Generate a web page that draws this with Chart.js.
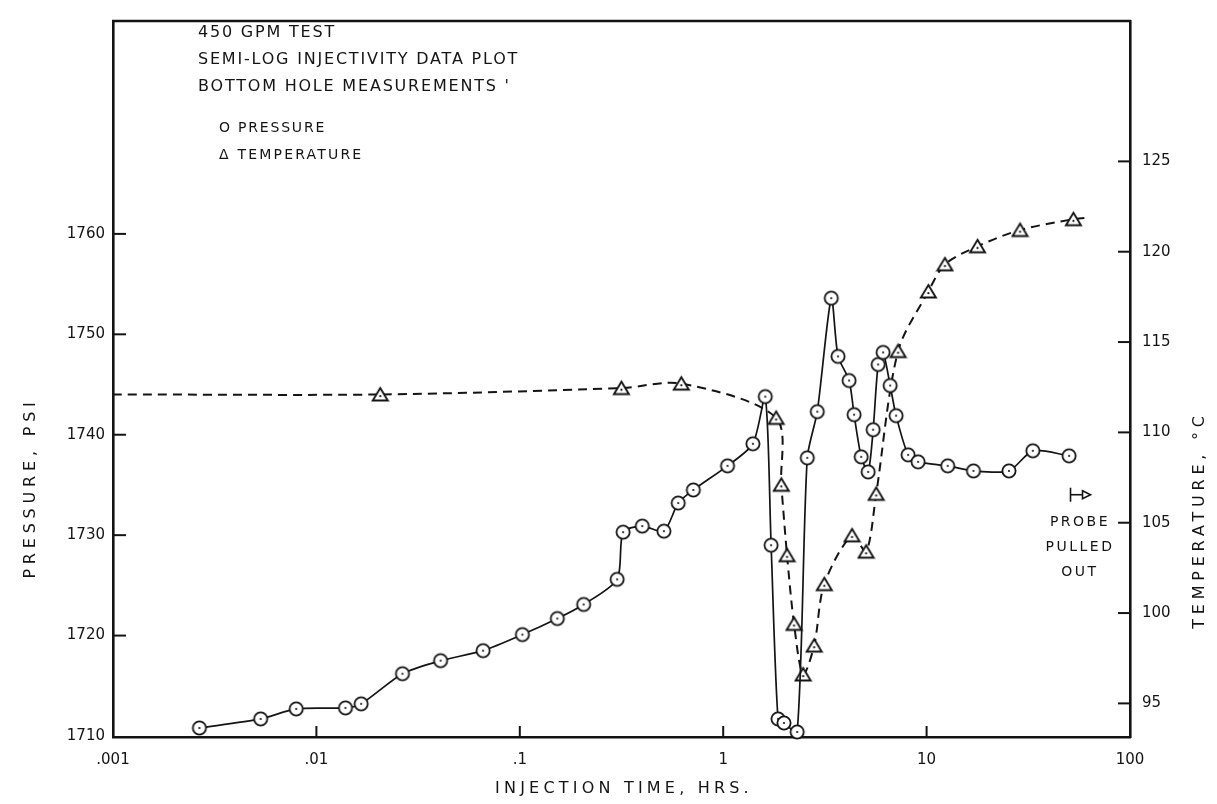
<!DOCTYPE html>
<html>
<head>
<meta charset="utf-8">
<title>450 GPM Test - Semi-log injectivity data plot</title>
<script src="https://cdn.jsdelivr.net/npm/chart.js@4.4.1/dist/chart.umd.min.js"></script>
<style>
  html, body { margin: 0; padding: 0; background: #ffffff; }
  #wrap { width: 1217px; height: 804px; }
</style>
</head>
<body>
<div id="wrap"><canvas id="chart" width="1217" height="804"></canvas></div>
<script>
// Bottom hole pressure (psi) against injection time (hrs)
const pressureTimes = [0.00266, 0.00532, 0.00796, 0.0139, 0.0166, 0.0265, 0.0408, 0.066, 0.103, 0.153,
  0.206, 0.301, 0.322, 0.40, 0.511, 0.601, 0.713, 1.05, 1.40, 1.61,
  1.72, 1.86, 1.99, 2.31, 2.59, 2.90, 3.40, 3.67, 4.16, 4.40,
  4.77, 5.16, 5.46, 5.78, 6.11, 6.62, 7.08, 8.11, 9.08, 12.7,
  17.0, 25.4, 33.3, 50.2];
const pressureValues = [1710.8, 1711.7, 1712.7, 1712.8, 1713.2, 1716.2, 1717.5, 1718.5, 1720.1, 1721.7,
  1723.1, 1725.6, 1730.3, 1730.9, 1730.4, 1733.2, 1734.5, 1736.9, 1739.1, 1743.8,
  1729.0, 1711.7, 1711.3, 1710.4, 1737.7, 1742.3, 1753.6, 1747.8, 1745.4, 1742.0,
  1737.8, 1736.3, 1740.5, 1747.0, 1748.2, 1744.9, 1741.9, 1738.0, 1737.3, 1736.9,
  1736.4, 1736.4, 1738.4, 1737.9];

// Bottom hole temperature (deg C); the first and last entries are the ends of the dashed curve
const temperatureTimes = [0.001, 0.0206, 0.316, 0.622, 1.82, 1.93, 2.06, 2.23, 2.47, 2.80,
  3.14, 4.30, 5.04, 5.65, 7.24, 10.2, 12.3, 17.8, 28.8, 52.7, 63.6];
const temperatureValues = [112.1, 112.1, 112.45, 112.7, 110.8, 107.1, 103.2, 99.4, 96.6, 98.2,
  101.6, 104.3, 103.4, 106.6, 114.5, 117.8, 119.3, 120.3, 121.2, 121.8, 121.9];
const temperatureMeasured = [false, true, true, true, true, true, true, true, true, true,
  true, true, true, true, true, true, true, true, true, true, false];

const timeTicks = [0.001, 0.01, 0.1, 1, 10, 100];
const timeTickLabels = ['.001', '.01', '.1', '1', '10', '100'];
const pressureTicks = [1710, 1720, 1730, 1740, 1750, 1760];
const temperatureTicks = [95, 100, 105, 110, 115, 120, 125];

const headerLines = ['450 GPM TEST', 'SEMI-LOG INJECTIVITY DATA PLOT', "BOTTOM HOLE MEASUREMENTS '"];
const legendLines = ['O PRESSURE', 'Δ TEMPERATURE'];
const probeNote = ['PROBE', 'PULLED', 'OUT'];
const probePulledTime = 51;
const probeNoteTemperature = 105;

const INK = '#141414';
const FONT = '"DejaVu Sans", "Liberation Sans", sans-serif';

// marker glyphs: open circle / open triangle with a centre dot
function makeCircleMark() {
  const c = document.createElement('canvas');
  c.width = 18; c.height = 18;
  const g = c.getContext('2d');
  g.beginPath(); g.arc(9, 9, 6.6, 0, Math.PI * 2);
  g.fillStyle = '#fff'; g.fill();
  g.lineWidth = 1.8; g.strokeStyle = INK; g.stroke();
  g.beginPath(); g.arc(9, 9, 1.1, 0, Math.PI * 2);
  g.fillStyle = INK; g.fill();
  return c;
}
function makeTriangleMark() {
  const c = document.createElement('canvas');
  c.width = 19; c.height = 19;
  const g = c.getContext('2d');
  g.beginPath(); g.moveTo(9.5, 3); g.lineTo(17, 15.5); g.lineTo(2, 15.5); g.closePath();
  g.fillStyle = '#fff'; g.fill();
  g.lineWidth = 1.9; g.lineJoin = 'miter'; g.strokeStyle = INK; g.stroke();
  g.beginPath(); g.arc(9.5, 11.2, 1.1, 0, Math.PI * 2);
  g.fillStyle = INK; g.fill();
  return c;
}
const circleMark = makeCircleMark();
const triangleMark = makeTriangleMark();

function spacedText(ctx, text, x, y, size, spacing, align) {
  ctx.font = size + 'px ' + FONT;
  ctx.letterSpacing = spacing + 'px';
  ctx.textAlign = align || 'left';
  ctx.textBaseline = 'middle';
  ctx.fillText(text, x, y);
}

// frame, inward tick marks, annotations and axis titles
const decorations = {
  id: 'decorations',
  afterDraw(chart) {
    const { ctx, chartArea: a, scales } = chart;
    const xs = scales.x, yp = scales.y, yt = scales.y2;
    ctx.save();
    ctx.strokeStyle = INK;
    ctx.fillStyle = INK;

    // top edge of the frame
    ctx.lineWidth = 2.6;
    ctx.beginPath(); ctx.moveTo(a.left - 1, a.top); ctx.lineTo(a.right + 1, a.top); ctx.stroke();

    // inward ticks
    ctx.lineWidth = 2;
    timeTicks.slice(1, -1).forEach(v => {
      const px = xs.getPixelForValue(v);
      ctx.beginPath(); ctx.moveTo(px, a.bottom); ctx.lineTo(px, a.bottom - 11); ctx.stroke();
    });
    pressureTicks.slice(1).forEach(v => {
      const py = yp.getPixelForValue(v);
      ctx.beginPath(); ctx.moveTo(a.left, py); ctx.lineTo(a.left + 13, py); ctx.stroke();
    });
    temperatureTicks.forEach(v => {
      const py = yt.getPixelForValue(v);
      ctx.beginPath(); ctx.moveTo(a.right, py); ctx.lineTo(a.right - 12, py); ctx.stroke();
    });

    // header block
    spacedText(ctx, headerLines[0], 198, 33, 16, 1.8);
    spacedText(ctx, headerLines[1], 198, 60, 16, 1.8);
    spacedText(ctx, headerLines[2], 198, 87, 16, 1.8);
    spacedText(ctx, legendLines[0], 219, 128, 14, 1.8);
    spacedText(ctx, legendLines[1], 219, 155, 14, 2.2);

    // probe pulled out note
    const py105 = yt.getPixelForValue(probeNoteTemperature);
    spacedText(ctx, probeNote[0], 1080, py105, 14, 2.5, 'center');
    spacedText(ctx, probeNote[1], 1080, py105 + 25, 14, 2.5, 'center');
    spacedText(ctx, probeNote[2], 1080, py105 + 50, 14, 2.5, 'center');
    const ax = xs.getPixelForValue(probePulledTime);
    const ay = py105 - 28;
    ctx.lineWidth = 1.6;
    ctx.beginPath(); ctx.moveTo(ax, ay - 7); ctx.lineTo(ax, ay + 7); ctx.stroke();
    ctx.beginPath(); ctx.moveTo(ax, ay); ctx.lineTo(ax + 12, ay); ctx.stroke();
    ctx.beginPath(); ctx.moveTo(ax + 12, ay - 4); ctx.lineTo(ax + 20, ay); ctx.lineTo(ax + 12, ay + 4); ctx.closePath(); ctx.stroke();

    // axis titles
    spacedText(ctx, 'INJECTION TIME, HRS.', 624, 789, 16, 4.2, 'center');
    ctx.save();
    ctx.translate(31, 488); ctx.rotate(-Math.PI / 2);
    spacedText(ctx, 'PRESSURE, PSI', 0, 0, 16, 4.8, 'center');
    ctx.restore();
    ctx.save();
    ctx.translate(1200, 520); ctx.rotate(-Math.PI / 2);
    spacedText(ctx, 'TEMPERATURE, °C', 0, 0, 16, 4.8, 'center');
    ctx.restore();

    ctx.restore();
  }
};

const tickFont = { family: FONT, size: 15 };
const hiddenGrid = { display: true, drawOnChartArea: false, drawTicks: false, color: 'rgba(0,0,0,0)', lineWidth: 1 };
const frameBorder = { display: true, width: 2.6, color: INK };

new Chart(document.getElementById('chart'), {
  type: 'line',
  data: {
    datasets: [
      {
        label: 'PRESSURE',
        data: pressureTimes.map((t, i) => ({ x: t, y: pressureValues[i] })),
        yAxisID: 'y',
        borderColor: INK,
        borderWidth: 1.7,
        tension: 0.25,
        pointStyle: circleMark,
        pointRadius: 7,
        clip: false
      },
      {
        label: 'TEMPERATURE',
        data: temperatureTimes.map((t, i) => ({ x: t, y: temperatureValues[i] })),
        yAxisID: 'y2',
        borderColor: INK,
        borderWidth: 2,
        borderDash: [9, 6],
        tension: 0.3,
        pointStyle: triangleMark,
        pointRadius: temperatureMeasured.map(m => (m ? 7 : 0)),
        clip: false
      }
    ]
  },
  options: {
    responsive: false,
    animation: false,
    devicePixelRatio: 1,
    layout: { padding: { top: 13, left: 0, right: 0, bottom: 0 } },
    plugins: { legend: { display: false }, tooltip: { enabled: false } },
    scales: {
      x: {
        type: 'logarithmic',
        position: 'bottom',
        min: 0.001,
        max: 100,
        afterBuildTicks: s => { s.ticks = timeTicks.map(v => ({ value: v })); },
        afterFit: s => { s.height = 67; },
        ticks: {
          callback: (v, i) => timeTickLabels[i],
          font: tickFont, color: INK, padding: 14, maxRotation: 0, autoSkip: false
        },
        grid: hiddenGrid,
        border: frameBorder
      },
      y: {
        type: 'linear',
        position: 'left',
        min: 1709.9,
        max: 1781.2,
        afterBuildTicks: s => { s.ticks = pressureTicks.map(v => ({ value: v })); },
        afterFit: s => { s.width = 113; },
        ticks: { font: tickFont, color: INK, padding: 8, callback: v => String(v) },
        grid: hiddenGrid,
        border: frameBorder
      },
      y2: {
        type: 'linear',
        position: 'right',
        min: 93.14,
        max: 132.77,
        afterBuildTicks: s => { s.ticks = temperatureTicks.map(v => ({ value: v })); },
        afterFit: s => { s.width = 87; },
        ticks: { font: tickFont, color: INK, padding: 12, callback: v => String(v) },
        grid: hiddenGrid,
        border: frameBorder
      }
    }
  },
  plugins: [decorations]
});
</script>
</body>
</html>
